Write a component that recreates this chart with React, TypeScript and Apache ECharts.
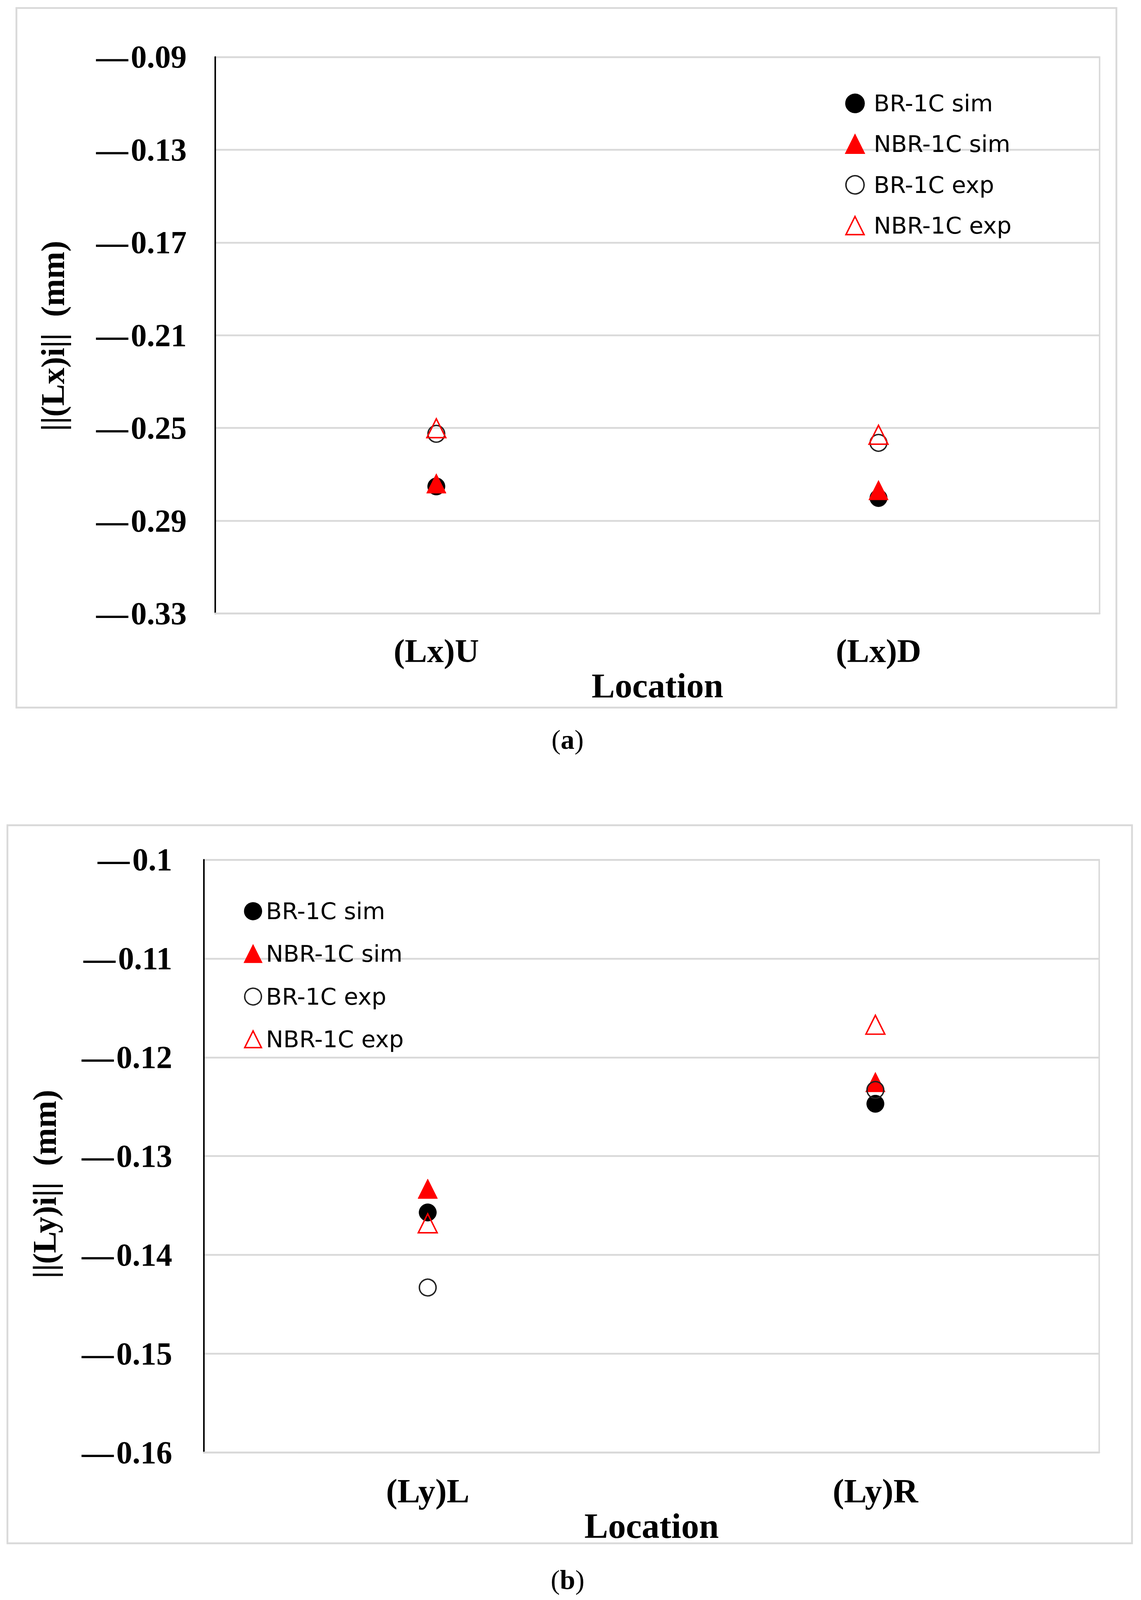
import React, { useEffect, useRef } from 'react';
import * as echarts from 'echarts';

// (a) horizontal locations
const categoriesA = ['(Lx)U', '(Lx)D'];
const brSimA = [-0.2752, -0.2802];
const nbrSimA = [-0.2739, -0.2768];
const brExpA = [-0.2525, -0.2564];
const nbrExpA = [-0.2501, -0.2529];

// (b) vertical locations
const categoriesB = ['(Ly)L', '(Ly)R'];
const brSimB = [-0.1357, -0.1247];
const nbrSimB = [-0.1333, -0.1225];
const brExpB = [-0.1433, -0.1233];
const nbrExpB = [-0.1368, -0.1167];

const seriesNames = ['BR-1C sim', 'NBR-1C sim', 'BR-1C exp', 'NBR-1C exp'];

const SERIF = "'Liberation Serif', 'Times New Roman', serif";
const SANS = "'DejaVu Sans', Verdana, sans-serif";
const GRID_GRAY = '#d9d9d9';
// layout below is measured on a 2921 x 4405 page
const REF_W = 2921;
const REF_H = 4405;

const tickLabel = (v: number) => '\u2014\u200A' + String(Math.abs(Number(v.toFixed(2))));

const App = () => {
  const chartRef = useRef<HTMLDivElement>(null);
  const kx = Math.min((window.innerWidth || REF_W) / REF_W, 1);
  const ky = Math.min((window.innerHeight || REF_H) / REF_H, 1);

  useEffect(() => {
    if (!chartRef.current) return;
    const myChart = echarts.init(chartRef.current, undefined, { renderer: 'svg' });
    const sx = (v: number) => v * kx;
    const sy = (v: number) => v * ky;

    const markerStyles = [
      { symbol: 'circle', symbolSize: sy(48), itemStyle: { color: '#000', borderColor: '#000', borderWidth: 1, opacity: 1 } },
      { symbol: 'triangle', symbolSize: sy(54), itemStyle: { color: '#ff0000', borderColor: '#ff0000', borderWidth: 1, opacity: 1 } },
      { symbol: 'circle', symbolSize: sy(46), itemStyle: { color: 'rgba(255,255,255,0)', borderColor: '#222', borderWidth: sy(4), opacity: 1 } },
      { symbol: 'triangle', symbolSize: sy(52), itemStyle: { color: 'rgba(255,255,255,0)', borderColor: '#ff0000', borderWidth: sy(4), opacity: 1 } },
    ];

    const makeSeries = (values: number[][], axisIndex: number) =>
      values.map((vals, i) => ({
        type: 'scatter',
        name: seriesNames[i],
        xAxisIndex: axisIndex,
        yAxisIndex: axisIndex,
        data: vals,
        z: 2 + i,
        ...markerStyles[i],
      }));

    const xAxisBase = (data: string[], fontSize: number, margin: number, nameSize: number, nameGap: number, gridIndex: number) => ({
      type: 'category',
      gridIndex,
      data,
      boundaryGap: true,
      axisTick: { show: false },
      axisLine: { onZero: false, lineStyle: { color: GRID_GRAY, width: sy(5) } },
      axisLabel: { color: '#000', fontFamily: SERIF, fontWeight: 'bold', fontSize: sy(fontSize), lineHeight: sy(fontSize), margin: sy(margin) },
      splitLine: { show: false },
      name: 'Location',
      nameLocation: 'middle',
      nameGap: sy(nameGap),
      nameTextStyle: { color: '#000', fontFamily: SERIF, fontWeight: 'bold', fontSize: sy(nameSize), lineHeight: sy(nameSize) },
    });

    const yAxisBase = (min: number, max: number, interval: number, margin: number, gridIndex: number) => ({
      type: 'value',
      gridIndex,
      min,
      max,
      interval,
      axisTick: { show: false },
      axisLine: { show: true, lineStyle: { color: '#000', width: sx(4) } },
      splitLine: { show: true, lineStyle: { color: GRID_GRAY, width: sy(5) } },
      axisLabel: {
        color: '#000',
        fontFamily: SERIF,
        fontWeight: 'bold',
        fontSize: sy(88),
        margin: sx(margin),
        formatter: tickLabel,
      },
    });

    // square icon box keeps the triangles in shape; left padding pushes the text right
    const legendBase = (centerX: number, textX: number, top: number, size: number, itemGap: number) => ({
      orient: 'vertical',
      left: sx(centerX) - sy(size) / 2,
      top: sy(top),
      itemWidth: sy(size),
      itemHeight: sy(size),
      itemGap: sy(itemGap),
      selectedMode: false,
      data: seriesNames,
      itemStyle: { borderWidth: sy(4) },
      textStyle: {
        color: '#000',
        fontFamily: SANS,
        fontSize: sy(64),
        lineHeight: sy(size),
        padding: [0, 0, 0, Math.max(0, sx(textX) - (sx(centerX) + sy(size) / 2) - 5)],
      },
    });

    const caption = (letter: string, x: number, y: number) => ({
      type: 'text',
      x: sx(x),
      y: sy(y),
      style: {
        text: `{p|(}{l|${letter}}{p|)}`,
        align: 'center',
        verticalAlign: 'middle',
        textAlign: 'center',
        textVerticalAlign: 'middle',
        rich: {
          p: { fontFamily: SERIF, fontSize: sy(76), fill: '#000', color: '#000' },
          l: { fontFamily: SERIF, fontSize: sy(76), fontWeight: 'bold', fill: '#000', color: '#000' },
        },
      },
    });

    const yName = (text: string, x: number, y: number) => ({
      type: 'text',
      x: sx(x),
      y: sy(y),
      rotation: Math.PI / 2,
      style: {
        text,
        fill: '#000',
        font: `bold ${sy(90)}px ${SERIF}`,
        align: 'center',
        verticalAlign: 'middle',
        textAlign: 'center',
        textVerticalAlign: 'middle',
      },
    });

    const frame = (x: number, y: number, w: number, h: number) => ({
      type: 'rect',
      z: -1,
      shape: { x: sx(x), y: sy(y), width: sx(w), height: sy(h) },
      style: { fill: 'none', stroke: GRID_GRAY, lineWidth: sy(5) },
    });

    const option: any = {
      animation: false,
      backgroundColor: '#fff',
      graphic: [
        frame(42, 22, 2816, 1926),
        frame(19, 2272, 2879, 1977),
        yName('||(Lx)i||  (mm)', 135, 925),
        yName('||(Ly)i||  (mm)', 114, 3260),
        caption('a', 1453, 2036),
        caption('b', 1453, 4349),
      ],
      grid: [
        { left: sx(551), top: sy(157), width: sx(2264), height: sy(1532), show: true, borderColor: GRID_GRAY, borderWidth: sy(4), backgroundColor: 'transparent', containLabel: false },
        { left: sx(522), top: sy(2367), width: sx(2292), height: sy(1632), show: true, borderColor: GRID_GRAY, borderWidth: sy(4), backgroundColor: 'transparent', containLabel: false },
      ],
      xAxis: [
        xAxisBase(categoriesA, 92, 57, 96, 144, 0),
        xAxisBase(categoriesB, 94, 58, 98, 133, 1),
      ],
      yAxis: [
        yAxisBase(-0.33, -0.09, 0.04, 73, 0),
        yAxisBase(-0.16, -0.1, 0.01, 81, 1),
      ],
      legend: [
        legendBase(2182, 2230, 247, 50, 47.6),
        legendBase(641, 674, 2471, 46, 53),
      ],
      series: [
        ...makeSeries([brSimA, nbrSimA, brExpA, nbrExpA], 0),
        ...makeSeries([brSimB, nbrSimB, brExpB, nbrExpB], 1),
      ],
    };

    myChart.setOption(option);

    return () => {
      myChart.dispose();
    };
  }, [kx, ky]);

  return (
    <div
      ref={chartRef}
      style={{ position: 'absolute', left: 0, top: 0, width: `${REF_W * kx}px`, height: `${REF_H * ky}px`, background: '#fff' }}
    />
  );
};

export default App;
